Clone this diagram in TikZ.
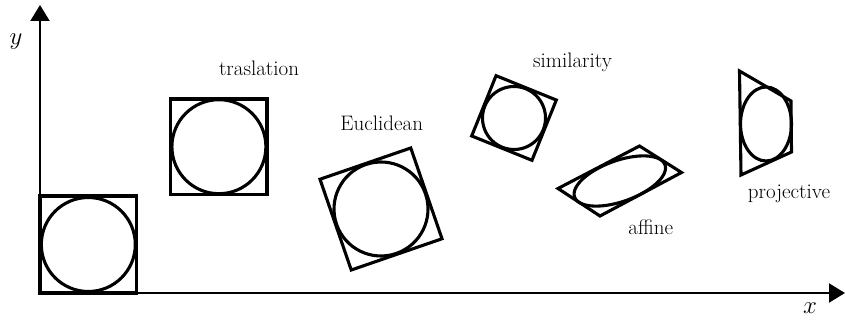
\documentclass[tikz,border=0pt]{standalone}
\usetikzlibrary{arrows.meta}
\begin{document}
\begin{tikzpicture}[x=1pt,y=-1pt,
  shapeline/.style={line width=3.1pt, line join=miter},
  axisline/.style={line width=2pt, -{Triangle[length=16pt,width=19pt]}},
  lbl/.style={font=\fontsize{21}{25}\selectfont, inner sep=0pt},
  axlbl/.style={font=\fontsize{29}{33}\selectfont, inner sep=0pt}]
\useasboundingbox (0,0) rectangle (845,320);
% axes
\coordinate (O) at (40,293);
\coordinate (xend) at (845,293);
\coordinate (yend) at (40,5);
\draw[axisline] (O) -- (xend);
\draw[axisline] (O) -- (yend);
\node[axlbl] (ylab) at (16,42) {$y$};
\node[axlbl] (xlab) at (810,308) {$x$};
% original
\draw[shapeline] (40,196) rectangle (136.5,293);
\draw[shapeline] (88.3,244.5) circle[radius=47];
% translation
\draw[shapeline] (170.7,99) rectangle (267,194.3);
\draw[shapeline] (218.9,146.7) circle[radius=47];
\node[lbl, anchor=base] (trl) at (259,76) {traslation};
% Euclidean
\begin{scope}[shift={(381,209)}, rotate=19]
\draw[shapeline] (-48,-48) rectangle (48,48);
\draw[shapeline] (0,0) circle[radius=47];
\end{scope}
\node[lbl, anchor=base] (eu) at (381.7,131) {Euclidean};
% similarity
\begin{scope}[shift={(514,118)}, rotate=-22]
\draw[shapeline] (-32.5,-32.5) rectangle (32.5,32.5);
\draw[shapeline] (0,0) circle[radius=31.5];
\end{scope}
\node[lbl, anchor=base] (sim) at (572.5,67.5) {similarity};
% affine
\draw[shapeline] (558,188.5) -- (639.5,146) -- (681.5,172.5) -- (600,216) -- cycle;
\draw[shapeline] plot[domain=0:360, samples=120, smooth cycle, variable=\t]
  ({619.8+40.8*cos(\t)+20.6*sin(\t)}, {181-21.3*cos(\t)+13.3*sin(\t)});
\node[lbl, anchor=base] (aff) at (650.8,235) {affine};
% projective
\draw[shapeline] (739.5,71) -- (791,101) -- (791.5,152) -- (741,175) -- cycle;
\draw[shapeline] (766,124) ellipse[x radius=25.5, y radius=37];
\node[lbl, anchor=base] (proj) at (789,198.5) {projective};
\end{tikzpicture}
\end{document}
